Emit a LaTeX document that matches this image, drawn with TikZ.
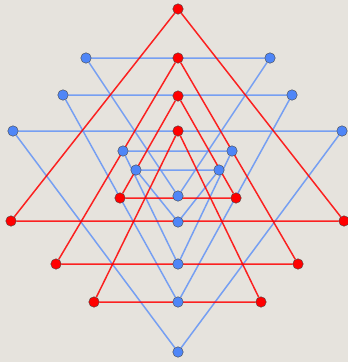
\documentclass[tikz,border=0pt]{standalone}
\usepackage{xcolor}
\definecolor{cRed}{HTML}{FF0000}
\definecolor{cBlue}{HTML}{4F86F7}
\definecolor{cBlueLine}{HTML}{6A98F5}
\definecolor{cRim}{HTML}{454545}
\definecolor{cPaper}{HTML}{E6E3DD}
\usetikzlibrary{backgrounds}
\tikzset{
  node-red/.style={circle,draw=cRim,thin,fill=cRed,minimum size=10.5pt,inner sep=0pt},
  node-blue/.style={circle,draw=cRim,thin,fill=cBlue,minimum size=10.5pt,inner sep=0pt},
  % upward triangles red, downward triangles blue
  edge-red/.style={draw=cRed,line width=1.5pt,opacity=0.85},
  edge-blue/.style={draw=cBlueLine,line width=1.5pt,opacity=0.9},
}

\begin{document}
\begin{tikzpicture}[x=1pt,y=-1pt]
  \useasboundingbox (0,0) rectangle (348,362);

  % downward triangles
  \node[node-blue] (b1l) at (13,131) {};
  \node[node-blue] (b1r) at (342,131) {};
  \node[node-blue] (b1b) at (178,352) {};
  \node[node-blue] (b2l) at (86,58) {};
  \node[node-blue] (b2r) at (270,58) {};
  \node[node-blue] (b2b) at (178,196) {};
  \node[node-blue] (b3l) at (63,95) {};
  \node[node-blue] (b3r) at (292,95) {};
  \node[node-blue] (b3b) at (178,302) {};
  \node[node-blue] (b4l) at (123,151) {};
  \node[node-blue] (b4r) at (232,151) {};
  \node[node-blue] (b4b) at (178,264) {};
  \node[node-blue] (b5l) at (136,170) {};
  \node[node-blue] (b5r) at (219,170) {};
  \node[node-blue] (b5b) at (178,222) {};

  % upward triangles
  \node[node-red] (r1t) at (178,9) {};
  \node[node-red] (r1l) at (11,221) {};
  \node[node-red] (r1r) at (344,221) {};
  \node[node-red] (r2t) at (178,58) {};
  \node[node-red] (r2l) at (56,264) {};
  \node[node-red] (r2r) at (298,264) {};
  \node[node-red] (r3t) at (178,96) {};
  \node[node-red] (r3l) at (120,198) {};
  \node[node-red] (r3r) at (236,198) {};
  \node[node-red] (r4t) at (178,131) {};
  \node[node-red] (r4l) at (94,302) {};
  \node[node-red] (r4r) at (261,302) {};

  \begin{scope}[on background layer]
    \fill[cPaper] (0,0) rectangle (348,362);
    \foreach \i in {1,...,5}
      \draw[edge-blue] (b\i l) -- (b\i r) -- (b\i b) -- (b\i l);
    \foreach \i in {1,...,4}
      \draw[edge-red] (r\i t) -- (r\i r) -- (r\i l) -- (r\i t);
  \end{scope}
\end{tikzpicture}
\end{document}
